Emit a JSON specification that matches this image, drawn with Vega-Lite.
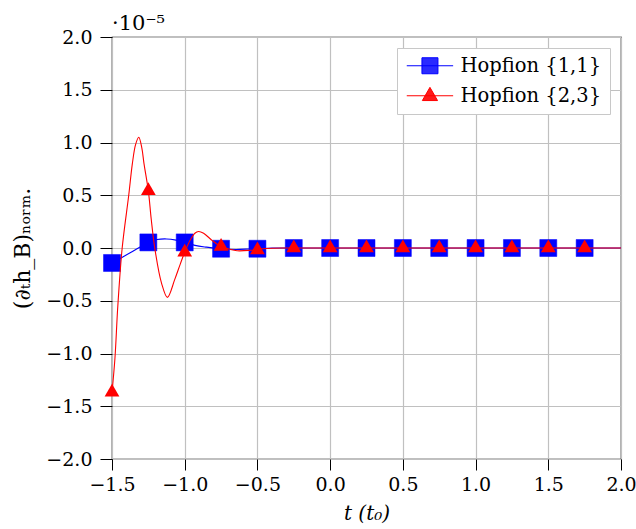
{
  "$schema": "https://vega.github.io/schema/vega-lite/v6.json",
  "width": 509,
  "height": 422,
  "autosize": "none",
  "padding": {"left": 112, "top": 37, "right": 15, "bottom": 70},
  "config": {
    "font": "DejaVu Serif",
    "view": {"stroke": "black", "strokeWidth": 1.2},
    "axis": {
      "labelFont": "DejaVu Serif",
      "labelFontSize": 19,
      "labelColor": "black",
      "titleFont": "DejaVu Serif",
      "titleFontSize": 20,
      "titleFontWeight": "normal",
      "titleColor": "black",
      "gridColor": "#c0c0c0",
      "gridWidth": 1.2,
      "gridOpacity": 1,
      "tickColor": "black",
      "tickWidth": 1,
      "domain": false
    }
  },
  "title": {
    "text": "·10⁻⁵",
    "anchor": "start",
    "frame": "group",
    "font": "DejaVu Serif",
    "fontSize": 21,
    "fontWeight": "normal",
    "color": "black",
    "offset": -6
  },
  "datasets": {
    "curves": [
      {"series": "Hopfion {1,1}", "t": -1.5, "v": -0.142},
      {"series": "Hopfion {1,1}", "t": -1.375, "v": -0.045},
      {"series": "Hopfion {1,1}", "t": -1.25, "v": 0.053},
      {"series": "Hopfion {1,1}", "t": -1.19, "v": 0.08},
      {"series": "Hopfion {1,1}", "t": -1.125, "v": 0.086},
      {"series": "Hopfion {1,1}", "t": -1.06, "v": 0.075},
      {"series": "Hopfion {1,1}", "t": -1.0, "v": 0.053},
      {"series": "Hopfion {1,1}", "t": -0.93, "v": 0.025},
      {"series": "Hopfion {1,1}", "t": -0.85, "v": 0.008},
      {"series": "Hopfion {1,1}", "t": -0.75, "v": -0.007},
      {"series": "Hopfion {1,1}", "t": -0.65, "v": -0.014},
      {"series": "Hopfion {1,1}", "t": -0.55, "v": -0.009},
      {"series": "Hopfion {1,1}", "t": -0.5, "v": -0.007},
      {"series": "Hopfion {1,1}", "t": -0.4, "v": 0},
      {"series": "Hopfion {1,1}", "t": -0.25, "v": 0},
      {"series": "Hopfion {1,1}", "t": 0, "v": 0},
      {"series": "Hopfion {1,1}", "t": 0.5, "v": 0},
      {"series": "Hopfion {1,1}", "t": 1.0, "v": 0},
      {"series": "Hopfion {1,1}", "t": 1.5, "v": 0},
      {"series": "Hopfion {1,1}", "t": 2.0, "v": 0},
      {"series": "Hopfion {2,3}", "t": -1.5, "v": -1.368},
      {"series": "Hopfion {2,3}", "t": -1.48, "v": -1.05},
      {"series": "Hopfion {2,3}", "t": -1.46, "v": -0.55},
      {"series": "Hopfion {2,3}", "t": -1.43, "v": 0.0},
      {"series": "Hopfion {2,3}", "t": -1.385, "v": 0.5},
      {"series": "Hopfion {2,3}", "t": -1.36, "v": 0.8},
      {"series": "Hopfion {2,3}", "t": -1.338, "v": 0.98},
      {"series": "Hopfion {2,3}", "t": -1.316, "v": 1.05},
      {"series": "Hopfion {2,3}", "t": -1.295, "v": 0.95},
      {"series": "Hopfion {2,3}", "t": -1.28, "v": 0.8},
      {"series": "Hopfion {2,3}", "t": -1.25, "v": 0.542},
      {"series": "Hopfion {2,3}", "t": -1.23, "v": 0.27},
      {"series": "Hopfion {2,3}", "t": -1.206, "v": 0.0},
      {"series": "Hopfion {2,3}", "t": -1.16, "v": -0.33},
      {"series": "Hopfion {2,3}", "t": -1.119, "v": -0.468},
      {"series": "Hopfion {2,3}", "t": -1.069, "v": -0.3},
      {"series": "Hopfion {2,3}", "t": -1.03, "v": -0.15},
      {"series": "Hopfion {2,3}", "t": -1.0, "v": -0.04},
      {"series": "Hopfion {2,3}", "t": -0.96, "v": 0.08},
      {"series": "Hopfion {2,3}", "t": -0.93, "v": 0.14},
      {"series": "Hopfion {2,3}", "t": -0.905, "v": 0.157},
      {"series": "Hopfion {2,3}", "t": -0.87, "v": 0.14},
      {"series": "Hopfion {2,3}", "t": -0.81, "v": 0.07},
      {"series": "Hopfion {2,3}", "t": -0.75, "v": 0.015},
      {"series": "Hopfion {2,3}", "t": -0.69, "v": -0.012},
      {"series": "Hopfion {2,3}", "t": -0.64, "v": -0.026},
      {"series": "Hopfion {2,3}", "t": -0.55, "v": -0.022},
      {"series": "Hopfion {2,3}", "t": -0.44, "v": -0.005},
      {"series": "Hopfion {2,3}", "t": -0.3, "v": 0},
      {"series": "Hopfion {2,3}", "t": 0, "v": 0},
      {"series": "Hopfion {2,3}", "t": 0.5, "v": 0},
      {"series": "Hopfion {2,3}", "t": 1.0, "v": 0},
      {"series": "Hopfion {2,3}", "t": 1.5, "v": 0},
      {"series": "Hopfion {2,3}", "t": 2.0, "v": 0}
    ],
    "markers": [
      {"series": "Hopfion {1,1}", "t": -1.5, "v": -0.142},
      {"series": "Hopfion {1,1}", "t": -1.25, "v": 0.053},
      {"series": "Hopfion {1,1}", "t": -1.0, "v": 0.053},
      {"series": "Hopfion {1,1}", "t": -0.75, "v": -0.007},
      {"series": "Hopfion {1,1}", "t": -0.5, "v": -0.007},
      {"series": "Hopfion {1,1}", "t": -0.25, "v": 0},
      {"series": "Hopfion {1,1}", "t": 0, "v": 0},
      {"series": "Hopfion {1,1}", "t": 0.25, "v": 0},
      {"series": "Hopfion {1,1}", "t": 0.5, "v": 0},
      {"series": "Hopfion {1,1}", "t": 0.75, "v": 0},
      {"series": "Hopfion {1,1}", "t": 1.0, "v": 0},
      {"series": "Hopfion {1,1}", "t": 1.25, "v": 0},
      {"series": "Hopfion {1,1}", "t": 1.5, "v": 0},
      {"series": "Hopfion {1,1}", "t": 1.75, "v": 0},
      {"series": "Hopfion {2,3}", "t": -1.5, "v": -1.368},
      {"series": "Hopfion {2,3}", "t": -1.25, "v": 0.542},
      {"series": "Hopfion {2,3}", "t": -1.0, "v": -0.04},
      {"series": "Hopfion {2,3}", "t": -0.75, "v": 0.015},
      {"series": "Hopfion {2,3}", "t": -0.5, "v": -0.02},
      {"series": "Hopfion {2,3}", "t": -0.25, "v": 0},
      {"series": "Hopfion {2,3}", "t": 0, "v": 0},
      {"series": "Hopfion {2,3}", "t": 0.25, "v": 0},
      {"series": "Hopfion {2,3}", "t": 0.5, "v": 0},
      {"series": "Hopfion {2,3}", "t": 0.75, "v": 0},
      {"series": "Hopfion {2,3}", "t": 1.0, "v": 0},
      {"series": "Hopfion {2,3}", "t": 1.25, "v": 0},
      {"series": "Hopfion {2,3}", "t": 1.5, "v": 0},
      {"series": "Hopfion {2,3}", "t": 1.75, "v": 0}
    ]
  },
  "encoding": {
    "x": {
      "field": "t",
      "type": "quantitative",
      "scale": {"domain": [-1.5, 2.0], "nice": false, "zero": false},
      "axis": {
        "values": [-1.5, -1.0, -0.5, 0, 0.5, 1.0, 1.5, 2.0],
        "format": ".1f",
        "title": "t (t₀)",
        "titleFontStyle": "italic",
        "tickSize": 11,
        "labelPadding": 5,
        "titlePadding": 9,
        "labelFlush": false
      }
    },
    "y": {
      "field": "v",
      "type": "quantitative",
      "scale": {"domain": [-2.0, 2.0], "nice": false, "zero": false},
      "axis": {
        "values": [-2.0, -1.5, -1.0, -0.5, 0, 0.5, 1.0, 1.5, 2.0],
        "format": ".1f",
        "title": "(∂ₜh_B)ₙₒᵣₘ.",
        "titleFontSize": 22,
        "tickSize": 12,
        "labelPadding": 8,
        "titlePadding": 11,
        "labelFlush": false
      }
    }
  },
  "layer": [
    {
      "data": {"name": "curves"},
      "transform": [{"filter": "datum.series === 'Hopfion {1,1}'"}],
      "mark": {"type": "line", "color": "#0000ff", "strokeWidth": 1.1, "interpolate": "catmull-rom"},
      "encoding": {}
    },
    {
      "data": {"name": "markers"},
      "transform": [{"filter": "datum.series === 'Hopfion {1,1}'"}],
      "mark": {"type": "point", "shape": "square", "filled": true, "size": 289, "color": "#0000ff", "opacity": 1, "stroke": "#0000ff", "strokeWidth": 0.5},
      "encoding": {}
    },
    {
      "data": {"name": "curves"},
      "transform": [{"filter": "datum.series === 'Hopfion {2,3}'"}],
      "mark": {"type": "line", "color": "#ff0000", "strokeWidth": 1.1, "interpolate": "catmull-rom"},
      "encoding": {}
    },
    {
      "data": {"name": "markers"},
      "transform": [{"filter": "datum.series === 'Hopfion {2,3}'"}],
      "mark": {"type": "point", "shape": "M0,-1L0.866,0.5H-0.866Z", "filled": true, "size": 289, "color": "#ff0000", "opacity": 1},
      "encoding": {}
    },
    {
      "data": {"name": "markers"},
      "transform": [{"filter": "datum.t === -1.5"}],
      "mark": {"type": "point", "filled": true, "opacity": 0},
      "encoding": {
        "fill": {
          "field": "series",
          "type": "nominal",
          "scale": {"domain": ["Hopfion {1,1}", "Hopfion {2,3}"], "range": ["#2a2aff", "#ff1a1a"]},
          "legend": {"title": null}
        },
        "stroke": {
          "field": "series",
          "type": "nominal",
          "scale": {"domain": ["Hopfion {1,1}", "Hopfion {2,3}"], "range": ["#0000ff", "#ff0000"]},
          "legend": {"title": null}
        },
        "shape": {
          "field": "series",
          "type": "nominal",
          "scale": {"domain": ["Hopfion {1,1}", "Hopfion {2,3}"], "range": ["M-1,0H4.8M0.9,-1H2.9V1H0.9Z", "M-1,0H4.8M1.9,-1.05L2.85,0.6H0.95Z"]},
          "legend": {
            "title": null,
            "orient": "top-right",
            "offset": 11,
            "padding": 8,
            "fillColor": "white",
            "strokeColor": "#c8c8c8",
            "cornerRadius": 0,
            "labelFont": "DejaVu Serif",
            "labelFontSize": 19.5,
            "labelColor": "black",
            "symbolSize": 256,
            "symbolStrokeWidth": 1,
            "symbolOpacity": 1,
            "rowPadding": 9,
            "labelOffset": 36
          }
        }
      }
    }
  ]
}
